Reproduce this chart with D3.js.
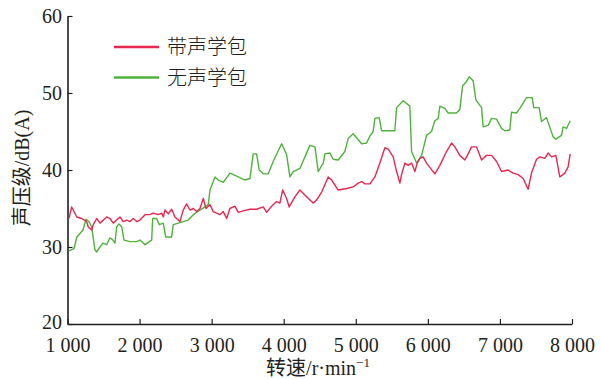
<!DOCTYPE html>
<html>
<head>
<meta charset="utf-8">
<script src="https://cdn.jsdelivr.net/npm/d3@7"></script>
<style>
  body { margin: 0; background: #fff; }
  text { font-family: "Liberation Serif", "Noto Sans CJK SC", serif; fill: #231f20; }
  .cjk { font-family: "Liberation Serif", "Noto Sans CJK SC", serif; }
</style>
</head>
<body>
<svg id="chart"></svg>
<script>
// rotation speed (r/min) and sound pressure level dB(A)
const greenRpm = [1020,1090,1130,1215,1257,1298,1336,1381,1405,1451,1492,1544,1589,1631,1659,1682,1714,1752,1784,1867,1960,2006,2075,2168,2182,2237,2273,2329,2362,2445,2467,2537,2606,2675,2745,2838,2907,2953,2977,3046,3092,3161,3254,3347,3462,3531,3577,3624,3660,3716,3785,3854,3971,4040,4086,4132,4225,4363,4433,4479,4548,4572,4641,4687,4756,4849,4895,4964,5081,5150,5196,5241,5265,5325,5358,5542,5566,5658,5750,5774,5843,5913,5982,6051,6097,6143,6167,6236,6282,6398,6444,6481,6537,6573,6628,6666,6745,6767,6837,6884,6953,7022,7068,7137,7161,7230,7276,7369,7447,7470,7544,7577,7646,7738,7775,7854,7877,7924,7960,7975]
const greenDb = [29.5,29.8,31.3,32.2,33.6,33.3,32.6,29.6,29.35,30.0,30.5,30.3,31.2,30.9,30.5,32.6,33.0,32.6,30.9,30.7,30.7,30.9,30.3,30.9,33.7,33.7,32.9,33.1,31.3,31.3,32.9,33.1,33.3,33.5,34.2,34.8,35.2,35.5,37.4,39.1,38.7,38.4,39.6,39.2,38.7,38.9,42.1,42.1,40.0,39.5,39.5,41.1,43.4,42.0,39.1,39.8,40.2,43.2,43.0,39.8,40.9,42.1,42.2,41.4,41.3,42.4,44.1,44.7,43.4,43.5,44.4,45.0,46.7,46.8,45.1,45.1,48.1,49.0,48.3,42.4,40.9,41.9,44.5,45.0,46.4,46.7,48.3,48.0,47.4,47.4,47.9,50.9,51.5,52.1,51.6,49.1,48.1,45.6,45.8,46.7,46.6,45.4,45.1,45.2,47.5,47.4,48.0,49.4,49.4,48.1,48.1,46.3,46.8,44.3,44.0,44.5,45.6,45.4,46.1,46.4]

const redRpm = [1020,1058,1080,1128,1197,1266,1288,1336,1358,1405,1451,1497,1544,1589,1635,1682,1728,1774,1821,1867,1913,1960,2006,2075,2144,2190,2259,2307,2329,2352,2398,2445,2491,2560,2606,2653,2699,2745,2792,2838,2884,2921,2977,3022,3115,3161,3208,3254,3323,3369,3438,3531,3624,3716,3763,3832,3902,3947,3985,4040,4076,4155,4225,4310,4409,4456,4530,4617,4664,4756,4873,4964,5033,5081,5126,5196,5265,5334,5404,5450,5519,5566,5612,5635,5681,5727,5774,5820,5852,5889,5935,5982,6097,6167,6259,6329,6375,6444,6513,6559,6606,6676,6745,6814,6884,6953,7022,7114,7183,7253,7322,7391,7438,7508,7554,7623,7669,7716,7776,7831,7900,7946,7975]
const redDb = [33.7,35.2,34.8,33.9,33.7,33.3,32.6,32.2,32.9,33.7,33.1,33.5,33.9,33.7,33.1,33.5,33.9,33.3,33.5,33.3,33.7,33.3,33.5,34.2,34.2,34.4,34.2,34.4,33.9,34.8,34.3,34.9,33.9,33.3,34.8,35.6,34.8,35.0,34.6,35.0,36.3,35.0,35.5,34.6,34.2,34.6,33.7,35.0,35.3,34.5,34.7,34.9,34.9,35.2,34.5,35.3,35.9,35.7,37.4,36.3,35.2,36.5,37.4,36.6,35.7,36.1,37.2,39.1,38.7,37.4,37.6,37.8,38.3,38.5,38.2,38.2,39.1,40.9,42.9,42.7,41.7,39.8,38.3,39.4,40.9,40.6,40.9,39.8,40.9,41.5,41.7,40.9,39.5,40.6,42.4,43.5,43.0,41.9,41.3,42.1,43.0,43.0,41.3,41.9,41.9,41.1,39.8,40.0,39.6,39.4,38.9,37.5,39.6,41.4,41.7,41.5,42.2,41.7,41.9,39.1,39.6,40.4,42.1]

const xTicks = [1000, 2000, 3000, 4000, 5000, 6000, 7000, 8000]
const yTicks = [20, 30, 40, 50, 60]
const seriesNames = ['带声学包', '无声学包']
const seriesColors = ['#e8274f', '#4fb23c']

const width = 601, height = 379
const margin = {top: 16, right: 29, bottom: 55, left: 67.5}
const innerW = width - margin.left - margin.right
const innerH = height - margin.top - margin.bottom

const svg = d3.select('#chart')
    .attr('width', width)
    .attr('height', height)

const chart = svg.append('g')
    .attr('transform', `translate(${margin.left},${margin.top})`)

const xScale = d3.scaleLinear().domain([1000, 8000]).range([0, innerW])
const yScale = d3.scaleLinear().domain([20, 60]).range([innerH, 0])

const fmt = d => d3.format(',')(d).replace(',', ' ')

const xAxis = d3.axisBottom(xScale)
    .tickValues(xTicks)
    .tickSizeInner(-5)
    .tickSizeOuter(0)
    .tickPadding(14)
    .tickFormat(fmt)

const yAxis = d3.axisLeft(yScale)
    .tickValues(yTicks)
    .tickSizeInner(-5)
    .tickSizeOuter(0)
    .tickPadding(10)

const xAxisG = chart.append('g')
    .attr('transform', `translate(0,${innerH})`)
    .call(xAxis)
const yAxisG = chart.append('g').call(yAxis)

;[xAxisG, yAxisG].forEach(g => {
    g.select('.domain').attr('stroke', '#231f20').attr('stroke-width', 1.6)
    g.selectAll('.tick line').attr('stroke', '#231f20').attr('stroke-width', 1.2)
    g.selectAll('.tick text')
        .attr('font-family', '"Liberation Serif", serif')
        .attr('font-size', 20)
        .attr('fill', '#231f20')
})
yAxisG.selectAll('.tick text').attr('x', -5.5)
// bottom "20" label sits slightly above its tick
yAxisG.selectAll('.tick text').filter(d => d === 20).attr('dy', '0.2em')

const line = d3.line()
    .x(d => xScale(d[0]))
    .y(d => yScale(d[1]))

const greenData = greenRpm.map((r, i) => [r, greenDb[i]])
const redData = redRpm.map((r, i) => [r, redDb[i]])

chart.append('path')
    .datum(greenData)
    .attr('fill', 'none')
    .attr('stroke', seriesColors[1])
    .attr('stroke-width', 1.4)
    .attr('stroke-linejoin', 'round')
    .attr('d', line)

chart.append('path')
    .datum(redData)
    .attr('fill', 'none')
    .attr('stroke', seriesColors[0])
    .attr('stroke-width', 1.4)
    .attr('stroke-linejoin', 'round')
    .attr('d', line)

// legend
const legend = svg.append('g').attr('transform', 'translate(114,47)')
seriesNames.forEach((name, i) => {
    const row = legend.append('g').attr('transform', `translate(0,${i * 30.5})`)
    row.append('line')
        .attr('x1', 0).attr('x2', 45)
        .attr('stroke', seriesColors[i])
        .attr('stroke-width', 2.4)
    row.append('text')
        .attr('x', 53)
        .attr('dy', '0.35em')
        .attr('font-size', 20)
        .attr('font-family', '"Noto Sans CJK SC", serif')
        .style('font-weight', 300)
        .text(name)
})

// axis titles
svg.append('text')
    .attr('transform', 'translate(29,168) rotate(-90)')
    .attr('text-anchor', 'middle')
    .attr('font-size', 20)
    .text('声压级/dB(A)')

const xt = svg.append('text')
    .attr('x', 318)
    .attr('y', 375)
    .attr('text-anchor', 'middle')
    .attr('font-size', 20)
xt.append('tspan').text('转速/r·min')
xt.append('tspan').attr('dy', -8).attr('font-size', 13).text('−1')
</script>
</body>
</html>
